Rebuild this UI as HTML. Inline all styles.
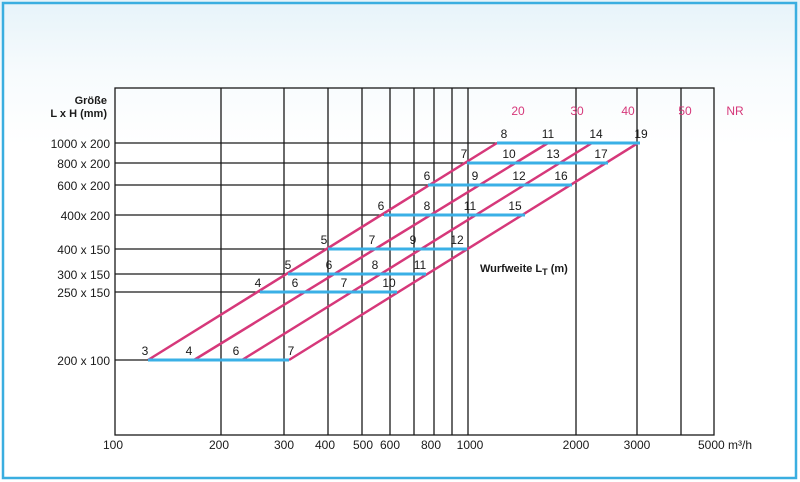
<!DOCTYPE html>
<html><head><meta charset="utf-8"><style>
html,body{margin:0;padding:0;}
body{width:800px;height:482px;overflow:hidden;background:#fff;}
svg{display:block;font-family:"Liberation Sans",Arial,sans-serif;}
</style></head><body>
<svg width="800" height="482" viewBox="0 0 800 482">
<defs><linearGradient id="bg" x1="0" y1="0" x2="0" y2="1">
<stop offset="0" stop-color="#e6f3f9"/><stop offset="0.15" stop-color="#f7fbfd"/><stop offset="0.3" stop-color="#ffffff"/></linearGradient></defs>
<rect x="0" y="0" width="800" height="482" fill="url(#bg)"/>
<rect x="3" y="3" width="793" height="475" fill="none" stroke="#3aaee0" stroke-width="2.5"/>
<g stroke="#1a1a1a" stroke-width="1.3" fill="none">
<rect x="115" y="88" width="599" height="347"/>
<line x1="221" y1="88" x2="221" y2="435"/>
<line x1="284" y1="88" x2="284" y2="435"/>
<line x1="328" y1="88" x2="328" y2="435"/>
<line x1="362" y1="88" x2="362" y2="435"/>
<line x1="390" y1="88" x2="390" y2="435"/>
<line x1="414" y1="88" x2="414" y2="435"/>
<line x1="434" y1="88" x2="434" y2="435"/>
<line x1="452" y1="88" x2="452" y2="435"/>
<line x1="468" y1="88" x2="468" y2="435"/>
<line x1="576" y1="88" x2="576" y2="435"/>
<line x1="637" y1="88" x2="637" y2="435"/>
<line x1="681" y1="88" x2="681" y2="435"/>
<line x1="115" y1="143" x2="497" y2="143"/>
<line x1="115" y1="163" x2="467" y2="163"/>
<line x1="115" y1="185" x2="428" y2="185"/>
<line x1="115" y1="215" x2="384" y2="215"/>
<line x1="115" y1="249" x2="328" y2="249"/>
<line x1="115" y1="274" x2="288" y2="274"/>
<line x1="115" y1="292" x2="260" y2="292"/>
<line x1="115" y1="360" x2="148" y2="360"/>
</g>
<g stroke="#d6387a" stroke-width="2.5">
<line x1="148" y1="360" x2="497" y2="143"/>
<line x1="194" y1="360" x2="548" y2="143"/>
<line x1="242" y1="360" x2="592" y2="143"/>
<line x1="289" y1="360" x2="638" y2="143"/>
</g>
<g stroke="#3ab0e6" stroke-width="3">
<line x1="148" y1="360" x2="289" y2="360"/>
<line x1="260" y1="292" x2="397" y2="292"/>
<line x1="288" y1="274" x2="426" y2="274"/>
<line x1="328" y1="249" x2="467" y2="249"/>
<line x1="384" y1="215" x2="525" y2="215"/>
<line x1="428" y1="185" x2="572" y2="185"/>
<line x1="467" y1="163" x2="608" y2="163"/>
<line x1="497" y1="143" x2="640" y2="143"/>
</g>
<g font-size="12" fill="#1a1a1a" text-anchor="end">
<text x="107" y="104" font-weight="bold" font-size="11">Größe</text>
<text x="107" y="117" font-weight="bold" font-size="11">L x H (mm)</text>
<text x="110" y="148">1000 x 200</text>
<text x="110" y="168">800 x 200</text>
<text x="110" y="190">600 x 200</text>
<text x="110" y="220">400x 200</text>
<text x="110" y="254">400 x 150</text>
<text x="110" y="279">300 x 150</text>
<text x="110" y="297">250 x 150</text>
<text x="110" y="365">200 x 100</text>
</g>
<g font-size="12" fill="#1a1a1a" text-anchor="middle">
<text x="113" y="449">100</text><text x="219" y="449">200</text><text x="284" y="449">300</text>
<text x="325" y="449">400</text><text x="363" y="449">500</text><text x="390" y="449">600</text>
<text x="431" y="449">800</text><text x="470" y="449">1000</text><text x="576" y="449">2000</text>
<text x="637" y="449">3000</text><text x="725" y="449">5000 m³/h</text>
<text x="145" y="355">3</text><text x="189" y="355">4</text><text x="236" y="355">6</text><text x="291" y="355">7</text>
<text x="258" y="287">4</text><text x="295" y="287">6</text><text x="344" y="287">7</text><text x="389" y="287">10</text>
<text x="288" y="269">5</text><text x="329" y="269">6</text><text x="375" y="269">8</text><text x="420" y="269">11</text>
<text x="324" y="244">5</text><text x="372" y="244">7</text><text x="413" y="244">9</text><text x="457" y="244">12</text>
<text x="381" y="210">6</text><text x="427" y="210">8</text><text x="470" y="210">11</text><text x="515" y="210">15</text>
<text x="427" y="180">6</text><text x="475" y="180">9</text><text x="519" y="180">12</text><text x="561" y="180">16</text>
<text x="464" y="158">7</text><text x="509" y="158">10</text><text x="553" y="158">13</text><text x="601" y="158">17</text>
<text x="504" y="138">8</text><text x="548" y="138">11</text><text x="596" y="138">14</text><text x="641" y="138">19</text>
</g>
<text x="480" y="272" font-size="11" font-weight="bold" fill="#1a1a1a">Wurfweite L<tspan font-size="9" dy="3">T</tspan><tspan dy="-3"> (m)</tspan></text>
<g font-size="12" fill="#d6387a" text-anchor="middle">
<text x="518" y="115">20</text><text x="577" y="115">30</text><text x="628" y="115">40</text><text x="685" y="115">50</text><text x="735" y="115">NR</text>
</g>
</svg>
</body></html>
